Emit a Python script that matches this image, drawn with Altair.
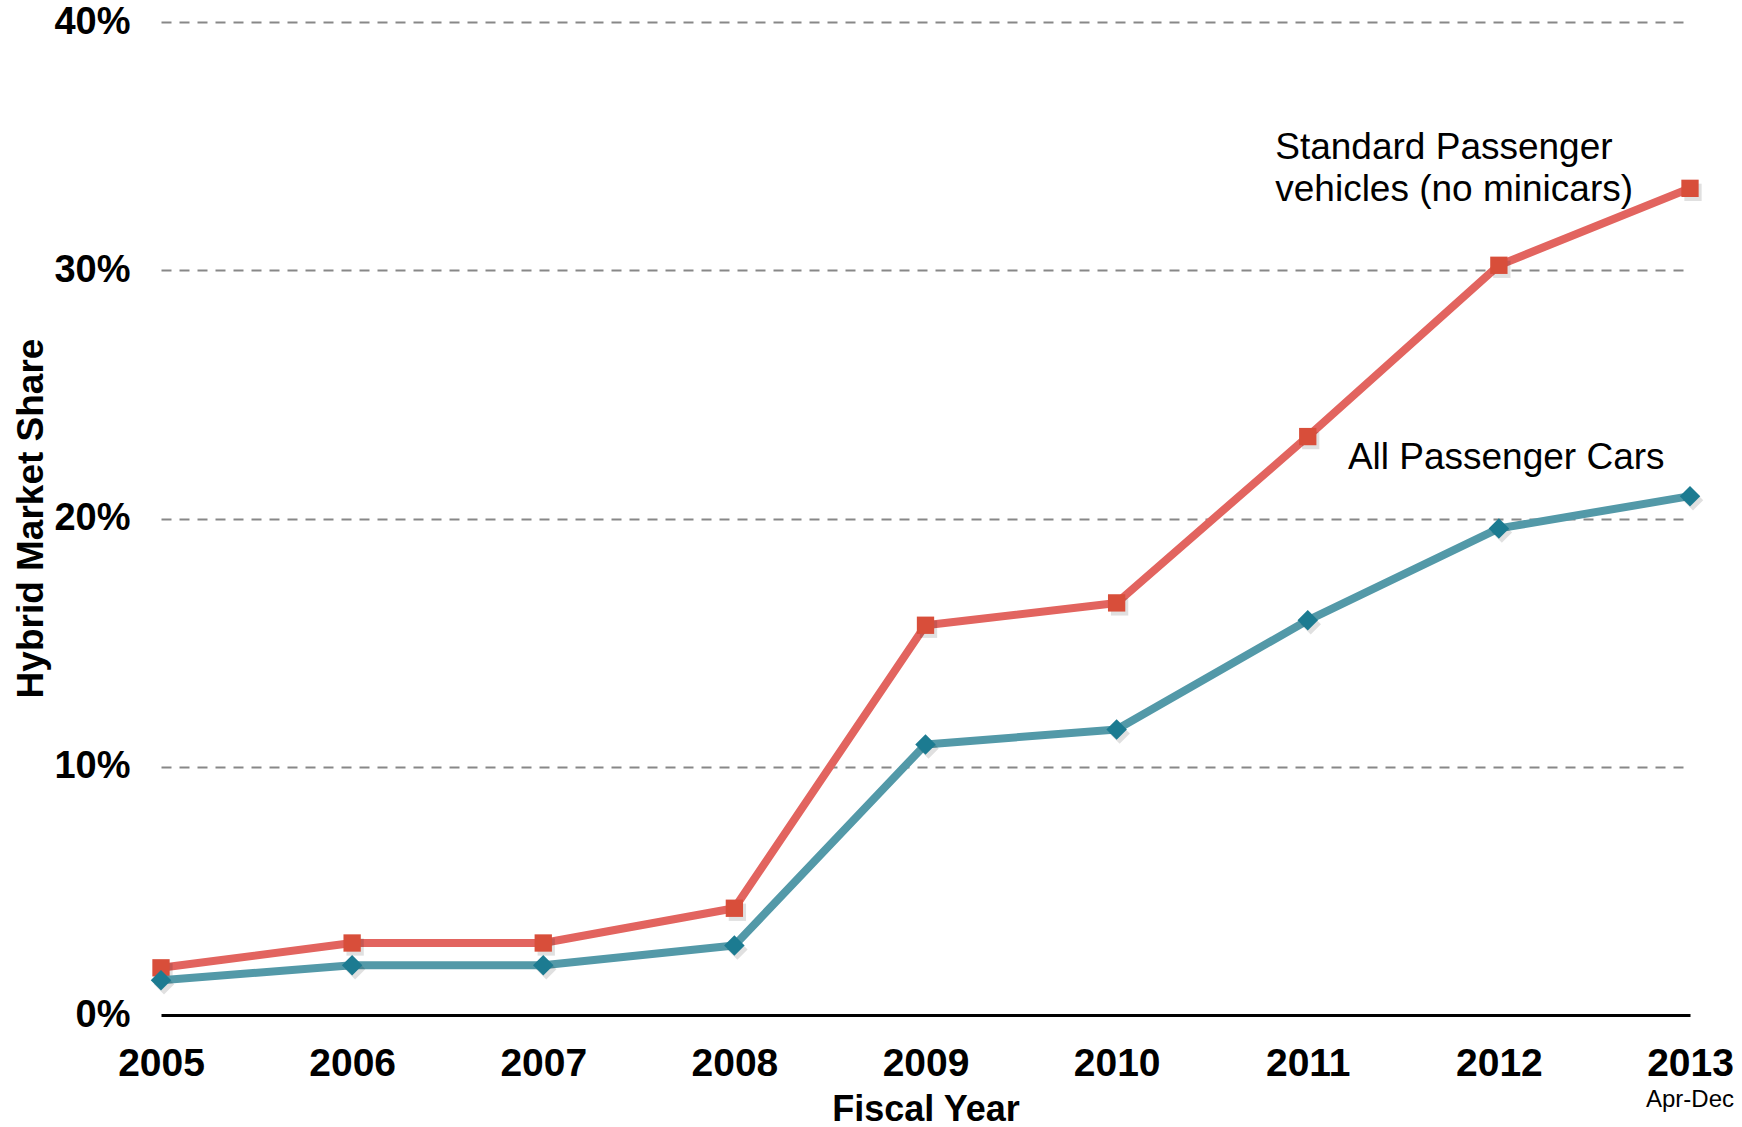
import altair as alt
import pandas as pd

# Hybrid share of new passenger car sales in Japan, by fiscal year (%)
years = [2005, 2006, 2007, 2008, 2009, 2010, 2011, 2012, 2013]
standard_share = [1.9, 2.9, 2.9, 4.3, 15.7, 16.6, 23.3, 30.2, 33.3]
all_cars_share = [1.4, 2.0, 2.0, 2.8, 10.9, 11.5, 15.9, 19.6, 20.9]
y_ticks = [0, 10, 20, 30, 40]

# series labels placed next to the lines (year, share)
note_text = ["Standard Passenger\nvehicles (no minicars)", "All Passenger Cars"]
note_year = [2010.83, 2011.21]
note_share = [34.5, 22.0]

# sub-label under the last (partial) fiscal year
partial_text = ["Apr-Dec"]
partial_year = [2013]
partial_share = [-3.7]

RED_LINE, RED_MARK = "#e2645f", "#d84e3a"
TEAL_LINE, TEAL_MARK = "#5399a8", "#1c7b91"
FONT = "Liberation Sans"

std = pd.DataFrame({"year": years, "share": standard_share})
allc = pd.DataFrame({"year": years, "share": all_cars_share})
notes = pd.DataFrame({"text": note_text, "year": note_year, "share": note_share})
partial = pd.DataFrame({"text": partial_text, "year": partial_year, "share": partial_share})

x_enc = alt.X(
    "year:Q",
    scale=alt.Scale(domain=[2005, 2013], nice=False, zero=False),
    axis=alt.Axis(
        values=years,
        format="d",
        labelFlush=False,
        labelFont=FONT,
        labelFontWeight="bold",
        labelFontSize=39,
        labelColor="#000",
        labelBaseline="alphabetic",
        labelPadding=60,
        ticks=False,
        tickSize=0,
        grid=False,
        domainColor="#000",
        domainWidth=3,
        title="Fiscal Year",
        titleFont=FONT,
        titleFontWeight="bold",
        titleFontSize=36,
        titleColor="#000",
        titleBaseline="alphabetic",
        titleY=105,
    ),
)
y_enc = alt.Y(
    "share:Q",
    scale=alt.Scale(domain=[0, 40], nice=False),
    axis=alt.Axis(
        values=y_ticks,
        labelExpr="datum.value + '%'",
        labelFont=FONT,
        labelFontWeight="bold",
        labelFontSize=38,
        labelColor="#000",
        labelBaseline="middle",
        labelPadding=31,
        ticks=False,
        tickSize=0,
        domain=False,
        grid=True,
        gridColor="#888888",
        gridWidth=2,
        gridDash=[10, 8],
        gridOpacity=alt.condition("datum.value == 0", alt.value(0), alt.value(1)),
        title="Hybrid Market Share",
        titleFont=FONT,
        titleFontWeight="bold",
        titleFontSize=37,
        titleColor="#000",
        titleBaseline="alphabetic",
        titleAngle=270,
        titleX=-119,
        titleY=496,
    ),
)


def series(df, line_color, mark_color, shape, size):
    base = alt.Chart(df).encode(x=x_enc, y=y_enc)
    line = base.mark_line(color=line_color, strokeWidth=8, strokeJoin="round")
    shadow = base.mark_point(
        shape=shape, size=size, filled=True, color="#000", opacity=0.12
    ).encode(xOffset=alt.value(3), yOffset=alt.value(4))
    pts = base.mark_point(shape=shape, size=size, filled=True, color=mark_color, opacity=1)
    return [line, shadow, pts]


layers = series(std, RED_LINE, RED_MARK, "square", 300) + series(
    allc, TEAL_LINE, TEAL_MARK, "diamond", 420
)

note_layer = alt.Chart(notes).mark_text(
    font=FONT,
    fontSize=37,
    align="left",
    baseline="alphabetic",
    lineBreak="\n",
    lineHeight=42,
    color="#000",
).encode(x="year:Q", y="share:Q", text="text:N")

partial_layer = alt.Chart(partial).mark_text(
    font=FONT,
    fontSize=24,
    align="center",
    baseline="alphabetic",
    color="#000",
).encode(x="year:Q", y="share:Q", text="text:N")

chart = (
    alt.layer(*layers, note_layer, partial_layer)
    .properties(
        width=1529,
        height=993,
        autosize=alt.AutoSizeParams(type="none"),
        padding={"left": 161, "top": 22, "right": 52, "bottom": 112},
        background="white",
    )
    .configure_view(strokeWidth=0)
)

chart.save("out.html", embed_options={"renderer": "svg", "actions": False})
